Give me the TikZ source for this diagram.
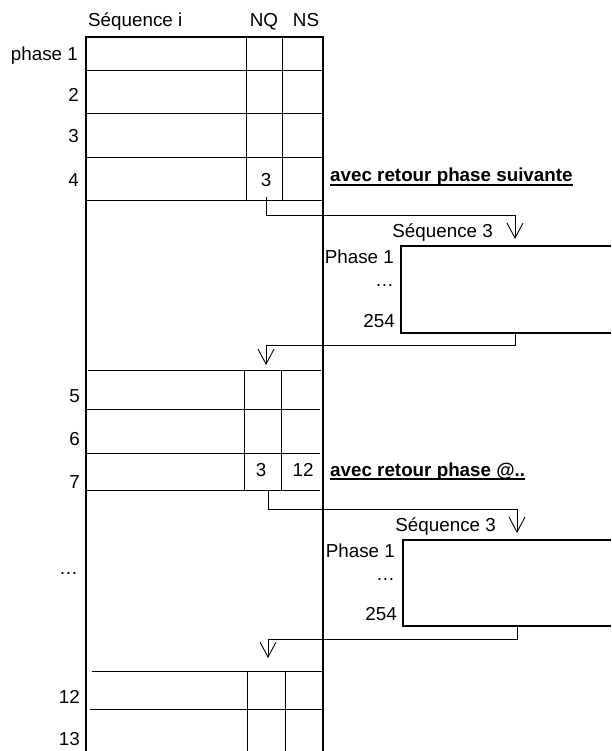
\documentclass[tikz,border=0pt]{standalone}
\usepackage{fontspec}
\setmainfont{Liberation Sans}
\usetikzlibrary{positioning, arrows.meta}

\begin{document}
\begin{tikzpicture}[x=1pt, y=-1pt, >={Straight Barb[length=15pt, width=16pt]},
  every node/.style={font=\fontsize{18.8}{22}\selectfont, inner sep=0pt},
  frame/.style={line width=1.3pt},
  grid/.style={line width=0.9pt},
  seqbox/.style={line width=1.7pt},
  link/.style={line width=0.9pt},
  lbl/.style={anchor=base east},
  note/.style={anchor=base west, font=\fontsize{18.8}{22}\selectfont\bfseries}]
  \useasboundingbox (0,0) rectangle (611,751);

  % main frame
  \coordinate (tl) at (86,37);
  \coordinate (tr) at (323,37);
  \draw[frame] (86,751) -- (tl) -- (tr) -- (323,751);

  % header
  \node[anchor=base west] (seqi) at (88,27) {Séquence i};
  \node[anchor=base] (nq) at (264,27) {NQ};
  \node[anchor=base] (ns) at (306,27) {NS};

  % phases 1 to 4
  \foreach \y in {70,113,157,200}
    \draw[grid] (86,\y) -- (324,\y);
  \foreach \x in {246,282}
    \draw[grid] (\x,37) -- (\x,200);
  \node[lbl] (p1) at (78,61) {phase 1};
  \foreach \n/\y in {2/102,3/143,4/187}
    \node[lbl] (p\n) at (79,\y) {\n};
  \node[anchor=base] (nq4) at (266,187) {3};
  \node[note] (note1) at (330,182) {avec retour phase suivante};
  \draw[line width=1.2pt] ([yshift=-3pt]note1.base west) -- ([yshift=-3pt]note1.base east);

  % call of sequence 3
  \coordinate (go1) at (266,197);
  \coordinate (turn1) at (266,215);
  \coordinate (in1) at (515,239);
  \draw[link,->] (go1) -- (turn1) -| (in1);
  \node[lbl] (seq1) at (493,237) {Séquence 3};
  \coordinate (box1nw) at (401,246);
  \coordinate (box1sw) at (401,333);
  \draw[seqbox] (611,246) -- (box1nw) -- (box1sw) -- (611,333);
  \node[lbl] (ph1a) at (394,263) {Phase 1};
  \node[lbl] (dots1) at (394,286) {…};
  \node[lbl] (end1) at (395,327) {254};
  \coordinate (out1) at (515,333);
  \coordinate (ret1) at (515,345);
  \coordinate (tip1) at (266,365);
  \draw[link,->] (out1) -- (ret1) -| (tip1);

  % phases 5 to 7
  \draw[grid] (88,370) -- (321,370);
  \foreach \y in {409,453,490}
    \draw[grid] (87,\y) -- (320,\y);
  \foreach \x in {244,281}
    \draw[grid] (\x,370) -- (\x,490);
  \foreach \n/\y in {5/402,6/445,7/488}
    \node[lbl] (p\n) at (80,\y) {\n};
  \node[anchor=base] (nq7) at (261,476) {3};
  \node[anchor=base] (ns7) at (303,476) {12};
  \node[note] (note2) at (330,476) {avec retour phase @..};
  \draw[line width=1.2pt] ([yshift=-3pt]note2.base west) -- ([yshift=-3pt]note2.base east);

  % second call of sequence 3
  \coordinate (go2) at (268,490);
  \coordinate (turn2) at (268,509);
  \coordinate (in2) at (517,533);
  \draw[link,->] (go2) -- (turn2) -| (in2);
  \node[lbl] (seq2) at (496,531) {Séquence 3};
  \coordinate (box2nw) at (403,540);
  \coordinate (box2sw) at (403,626);
  \draw[seqbox] (611,540) -- (box2nw) -- (box2sw) -- (611,626);
  \node[lbl] (ph1b) at (395,557) {Phase 1};
  \node[lbl] (dots2) at (395,580) {…};
  \node[lbl] (end2) at (397,620) {254};
  \coordinate (out2) at (517,626);
  \coordinate (ret2) at (517,639);
  \coordinate (tip2) at (268,658);
  \draw[link,->] (out2) -- (ret2) -| (tip2);
  \node[lbl] (pdots) at (78,574) {…};

  % phases 12 and 13
  \draw[grid] (92,671) -- (323,671);
  \draw[grid] (90,709) -- (323,709);
  \foreach \x in {247,285}
    \draw[grid] (\x,671) -- (\x,751);
  \node[lbl] (p12) at (80,703) {12};
  \node[lbl] (p13) at (80,745) {13};
\end{tikzpicture}
\end{document}
